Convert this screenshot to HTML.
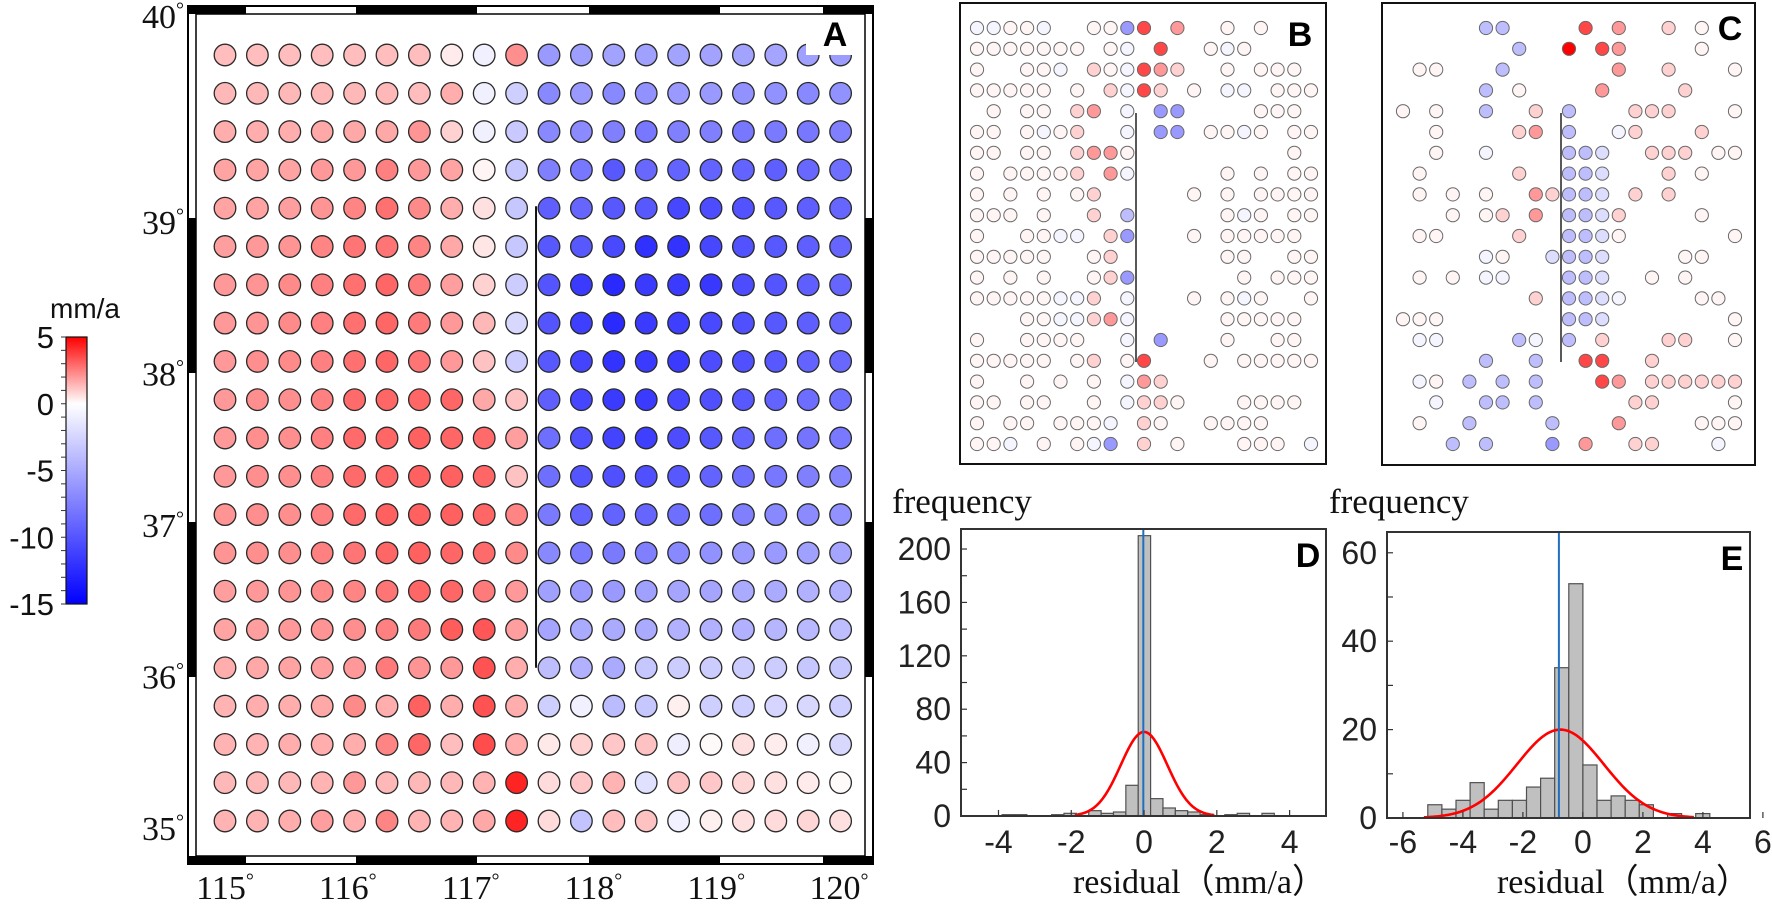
<!DOCTYPE html>
<html><head><meta charset="utf-8">
<style>
html,body{margin:0;padding:0;background:#fff;}
svg{display:block}
</style></head>
<body>
<svg id="fig" width="1772" height="906" viewBox="0 0 1772 906" xmlns="http://www.w3.org/2000/svg">
<defs>
<linearGradient id="cbGrad" x1="0" y1="0" x2="0" y2="1">
<stop offset="0" stop-color="#ff0000"/><stop offset="0.25" stop-color="#ffffff"/><stop offset="1" stop-color="#0000ff"/>
</linearGradient>
</defs>
<g id="gCB"></g>
<g id="gA"></g>
<g id="gB"></g>
<g id="gC"></g>
<g id="gD"></g>
<g id="gE"></g>
</svg>
<script>
// ---------- Panel A data (rows north->south, cols west->east), mm/a ----------
const aValues = [
[1.3,1.3,1.3,1.3,1.3,1.3,1.3,0.4,-0.9,2.2,-6,-5.7,-5.5,-5.6,-5.5,-5.4,-5.5,-5.3,-5.6,-5.8],
[1.4,1.4,1.4,1.4,1.4,1.4,1.3,1.6,-0.9,-2.8,-7,-6,-7,-6.5,-6,-6,-6.5,-6.5,-7,-6.5],
[1.6,1.6,1.6,1.7,1.7,1.7,2.1,0.9,-0.9,-3.2,-7,-6.8,-7.5,-8,-7.5,-7.5,-8,-7.8,-8,-7.5],
[1.8,1.8,1.8,2,2,2.5,2,1.8,0.2,-3.3,-7.5,-8,-9.8,-8.9,-9.2,-9.2,-9.2,-9.4,-8.9,-8.5],
[1.8,1.8,1.9,2.1,2.4,2.8,2.3,1.6,0.6,-3.3,-9.4,-9,-9.8,-9.8,-10.8,-10.5,-10.2,-9.8,-9.4,-9],
[1.9,2,2.1,2.4,2.7,2.7,2.4,1.7,0.5,-3.3,-9.8,-9.8,-10.7,-12.2,-12,-10.8,-10.2,-9.8,-9.4,-9],
[2,2.1,2.3,2.5,2.8,3,2.6,1.9,0.9,-3,-10,-11.5,-12.5,-11.5,-11.5,-11.7,-10.5,-10,-9.4,-9],
[2,2.1,2.3,2.5,2.8,3,2.6,2,1.4,-2.3,-10,-11.3,-12.5,-11.5,-11.3,-10.7,-10.3,-9.8,-9.4,-9],
[2,2.2,2.3,2.5,2.8,3,2.7,2,1.2,-3,-9.8,-11,-12,-11.5,-11.5,-10.5,-10.3,-9.8,-9.2,-8.9],
[2,2.2,2.2,2.5,2.9,3,3,3,1.7,1.2,-9.4,-10.9,-11.5,-11.5,-10.8,-10.3,-9.8,-9.2,-8.6,-8.5],
[2,2.2,2.2,2.5,2.9,3,3.1,3,2.9,1.9,-8.5,-10.3,-11,-11.3,-10.5,-9.8,-9.2,-8.5,-8.2,-7.9],
[2,2.2,2.2,2.5,2.9,3,3.1,3.1,3,1.2,-8.5,-10,-10.3,-10.3,-9.8,-9.2,-8.5,-8,-7.5,-7.2],
[2.1,2.2,2.2,2.5,2.9,3.1,3.1,3.1,3,2.4,-7.8,-9.2,-9.2,-9,-8.5,-8.5,-7.5,-7,-6.8,-6.5],
[2.1,2.2,2.2,2.5,2.7,3,3.1,3,2.9,2.3,-7,-7.8,-7.8,-7.5,-7,-6.5,-6,-6,-5.6,-5.3],
[1.9,2,2.1,2.3,2.4,2.7,3,3,2.6,2,-5.6,-6,-6,-5.6,-5.3,-5.3,-5,-5,-4.6,-4.6],
[1.8,1.9,2,2.1,2.2,2.5,2.6,3.2,3.3,1.9,-5.3,-5,-5,-5,-4.6,-4.6,-4.6,-4.3,-4.1,-3.9],
[1.6,1.7,1.8,1.9,2,2.6,2.1,2,3.4,1.6,-3.8,-4.6,-5,-3.3,-3,-3,-3,-3,-3.3,-3.3],
[1.5,1.6,1.6,1.7,2.3,1.6,3.1,1.6,3.4,1.6,-2.8,-0.9,-4,-3.3,0.3,-2.8,-2.8,-2.5,-2.3,-2.8],
[1.5,1.5,1.6,1.6,1.6,2.4,3,1.3,3.5,1.6,0.45,0.9,1.1,1.2,-1,0.1,0.6,0.35,-0.9,-2.3],
[1.4,1.4,1.4,1.5,2,1.4,1.4,1.4,1.5,4.3,0.7,1.1,1.5,-1.8,1.2,1.1,0.8,0.6,0.4,0.1],
[1.5,1.5,1.6,1.9,1.6,2.4,1.5,1.5,1.7,4.3,0.7,-3.5,1.3,1.2,-0.8,0.3,0.6,0.7,0.8,0.6]
];
const lonTicks = [115,116,117,118,119,120];
const latTicks = [40,39,38,37,36,35];
const cbTicks = [5,0,-5,-10,-15];

// ---------- Panels B / C residual patterns (code per station, '.' = none) ----------
const resCodeKeys = ['o','u','c','b','B','p','r','R','X'];
const resCodeVals = [0.2,-0.6,-2,-3.8,-6,0.9,2,3.6,5];
const bRows = [
"uuoou..ooBR.r..o.o...","ooooooo.ou.R..ouo....","o..oou.pouRrp..o.ooo.","ooooo.o.puRp.o.uu.ooo",
".o.oo.pr.u.BB....ooo.","oo.ouop..u.BB.oouo.oo","oo.oo.prro.........o.","o.oooop.ru.....o.o.oo",
"o.o.o.op.....o.o.oooo","ooo.o..p.b.....ouo.oo","o..oouu.pB...o.ooooo.","ooooo..op......oo..oo",
"o.o.o..opB......o.ooo","ooooouup.u...o.ouo..o","...oouupru.....ooooo.","o..oooo..u.B...o..oo.",
"ooooo.op.oR...o.ooooo","o..o.o.o.urp.........","oo.oo..o.uppo...oooo.","o.oo.ooou.po..oooo...",
"oou.o.ouB.p.o...ooo.u"
];
const cRows = [
".....bb....R.r..p.o..",".......b..X.Rr....o..",".oo...b......r..p...o",".....b.o....r....p...",
"o.o..b..p.b...ppp...o","..o....pr.b..up...p..","..o..u....bbc..ppp.oo",".o.....p..bbc...p.o..",
".o.o.o..rpbbc.p.p....","...o.op.r.bbcp....o..",".oo....p..bbco......o",".....uo..cbbc....oo..",
".o.o.uu...bbc..o.o...","........p.bbcu....oo.","ooo.......bbc.......o",".uu....bu.b.p...pp..o",
".....b..b..RR..p.....",".uo.b.b.b...Rr.pppppp","..u..bb.b.....pp....o",".o..b....b...r....ooo",
"...b.b...B.r..pp...u."
];

// ---------- Panel D histogram ----------
const dBinStart = -4.24;
const dBinWidth = 0.34;
const dCounts = [0,1,1,0,0,1,2,0,4,2,3,23,210,13,6,4,3,1,0,1,2,0,2,0];
const dYTicks = [0,40,80,120,160,200];
const dXTicks = [-4,-2,0,2,4];
const dFit = [63,0,0.64,-1.9,1.93]; // peak, mean, sd, from, to
const dMeanLine = [-0.02];

// ---------- Panel E histogram ----------
const eBinStart = -5.17;
const eBinWidth = 0.47;
const eCounts = [3,2,4,8,2,4,4,7,9,34,53,12,4,5,4,3,0,1,0,1];
const eYTicks = [0,20,40,60];
const eXTicks = [-6,-4,-2,0,2,4,6];
const eFit = [20,-0.75,1.45,-5.3,3.7];
const eMeanLine = [-0.8];

const NS = 'http://www.w3.org/2000/svg';
function mk(tag, attrs, parent, txt){
  const e = document.createElementNS(NS, tag);
  for (const k in attrs) e.setAttribute(k, attrs[k]);
  if (txt !== undefined) e.textContent = txt;
  parent.appendChild(e);
  return e;
}
function vColor(v){
  if (v >= 0){ const t = Math.min(v/5,1); const g = Math.round(255*(1-t)); return 'rgb(255,'+g+','+g+')'; }
  const t = Math.min(-v/15,1); const g = Math.round(255*(1-t)); return 'rgb('+g+','+g+',255)';
}
const SERIF = '"Liberation Serif", serif';
const SANS = '"Liberation Sans", sans-serif';

// ===== Colorbar =====
const gCB = document.getElementById('gCB');
const cbTop = 337, cbBot = 604;
function cbY(v){ return cbTop + (5 - v) / 20 * (cbBot - cbTop); }
const cbTitle = mk('text',{x:85,y:318,'font-family':SANS,'font-size':28,'text-anchor':'middle',fill:'#111'},gCB,'mm/a');


const cbRect = mk('rect',{x:66,y:cbTop,width:21,height:cbBot-cbTop,fill:'url(#cbGrad)',stroke:'#111','stroke-width':1.2},gCB);


for (let v = -15; v <= 5; v++){
  mk('line',{x1:61,x2:66,y1:cbY(v),y2:cbY(v),stroke:'#333','stroke-width':1},gCB);
}
cbTicks.forEach(function(v){
  const t = mk('text',{x:54,y:cbY(v)+11,'font-family':SANS,'font-size':31,'text-anchor':'end',fill:'#111'},gCB,String(v));
  
  
});

// ===== Panel A =====
const gA = document.getElementById('gA');
function ax(c){ return 225 + c*32.4; }
function ay(r){ return 55 + r*38.3; }
aValues.forEach(function(row, r){
  row.forEach(function(v, c){
    const ci = mk('circle',{cx:ax(c),cy:ay(r),r:10.8,fill:vColor(v),stroke:'#2a2a2a','stroke-width':1.3},gA);
    
    
  });
});
const faultA = mk('line',{x1:ax(9.6),x2:ax(9.6),y1:ay(3.95),y2:ay(16),stroke:'#111','stroke-width':2},gA);


mk('rect',{x:806,y:15,width:48,height:40,fill:'#fff'},gA);
const labA = mk('text',{x:835,y:46,'font-family':SANS,'font-size':34,'font-weight':'bold','text-anchor':'middle',fill:'#000'},gA,'A');


const fx0=188, fx1=873, fy0=6, fy1=864, bw=8;
mk('rect',{x:fx0,y:fy0,width:fx1-fx0,height:fy1-fy0,fill:'none',stroke:'#000','stroke-width':2},gA);
mk('rect',{x:fx0+bw,y:fy0+bw,width:fx1-fx0-2*bw,height:fy1-fy0-2*bw,fill:'none',stroke:'#000','stroke-width':1.5},gA);
[[188,246],[356,477],[589,720],[823,873]].forEach(function(s){
  mk('rect',{x:s[0],y:fy0,width:s[1]-s[0],height:bw,fill:'#000'},gA);
  mk('rect',{x:s[0],y:fy1-bw,width:s[1]-s[0],height:bw,fill:'#000'},gA);
});
[[218,373],[522,677]].forEach(function(s){
  mk('rect',{x:fx0,y:s[0],width:bw,height:s[1]-s[0],fill:'#000'},gA);
  mk('rect',{x:fx1-bw,y:s[0],width:bw,height:s[1]-s[0],fill:'#000'},gA);
});
lonTicks.forEach(function(lon){
  const t = mk('text',{x:225+(lon-115)*122.8,y:899,'font-family':SERIF,'font-size':34,'text-anchor':'middle',fill:'#111'},gA);
  t.textContent = String(lon);
  mk('tspan',{'font-size':20,dy:-12},t,'°');
  
  
});
latTicks.forEach(function(lat){
  const yc = lat >= 40 ? 28 : 840 - (lat-35)*151.5;
  const t = mk('text',{x:184,y:yc,'font-family':SERIF,'font-size':34,'text-anchor':'end',fill:'#111'},gA);
  t.textContent = String(lat);
  mk('tspan',{'font-size':20,dy:-12},t,'°');
  
  
});

// ===== Panels B / C =====
function drawResidualMap(gid, rows, x0, dx, box, lineX, label, labelX, labelY, nameSuffix){
  const g = document.getElementById(gid);
  const fr = mk('rect',{x:box[0],y:box[1],width:box[2]-box[0],height:box[3]-box[1],fill:'#fff',stroke:'#111','stroke-width':2},g);
  
  
  rows.forEach(function(row, r){
    for (let c = 0; c < row.length; c++){
      const k = resCodeKeys.indexOf(row[c]);
      if (k < 0) continue;
      const ci = mk('circle',{cx:x0 + c*dx, cy:28 + r*20.8, r:6.6, fill:vColor(resCodeVals[k]), stroke:'#6a6a6a','stroke-width':1},g);
      
      
    }
  });
  const ln = mk('line',{x1:lineX,x2:lineX,y1:113,y2:362,stroke:'#222','stroke-width':1.5},g);
  
  
  const t = mk('text',{x:labelX,y:labelY,'font-family':SANS,'font-size':34,'font-weight':'bold','text-anchor':'middle',fill:'#000'},g,label);
  
  
}
drawResidualMap('gB', bRows, 977, 16.7, [960,3,1326,464], 1136, 'B', 1300, 46, 'b');
drawResidualMap('gC', cRows, 1403, 16.6, [1382,3,1755,465], 1561, 'C', 1730, 40, 'c');

// ===== Histograms =====
function drawHist(gid, o){
  const g = document.getElementById(gid);
  const X = function(v){ return o.bx0 + (v - o.xmin)/(o.xmax - o.xmin)*(o.bx1 - o.bx0); };
  const Y = function(v){ return o.by1 - v/o.ymax*(o.by1 - o.by0); };
  mk('rect',{x:o.bx0,y:o.by0,width:o.bx1-o.bx0,height:o.by1-o.by0,fill:'#fff'},g);
  o.counts.forEach(function(cnt, i){
    if (cnt <= 0) return;
    const l = o.binStart + i*o.binWidth;
    const b = mk('rect',{x:X(l),y:Y(cnt),width:X(l+o.binWidth)-X(l),height:Y(0)-Y(cnt),fill:'#c0c0c0',stroke:'#505050','stroke-width':1.2},g);
    
    
  });
  const fit = o.fit; let d = '';
  for (let i = 0; i <= 120; i++){
    const v = fit[3] + (fit[4]-fit[3])*i/120;
    const f = fit[0]*Math.exp(-0.5*Math.pow((v-fit[1])/fit[2],2));
    d += (i ? 'L' : 'M') + X(v).toFixed(2) + ' ' + Y(f).toFixed(2);
  }
  const cv = mk('path',{d:d,fill:'none',stroke:'#ff0000','stroke-width':2.6},g);
  
  
  const ml = mk('line',{x1:X(o.mean[0]),x2:X(o.mean[0]),y1:o.by0,y2:o.by1,stroke:'#1f6fbf','stroke-width':2},g);
  
  
  mk('rect',{x:o.bx0,y:o.by0,width:o.bx1-o.bx0,height:o.by1-o.by0,fill:'none',stroke:'#333','stroke-width':2},g);
  o.yTicks.forEach(function(v, i){
    mk('line',{x1:o.bx0,x2:o.bx0+6,y1:Y(v),y2:Y(v),stroke:'#333','stroke-width':1.2},g);
    if (i < o.yTicks.length-1){ const m=(v+o.yTicks[i+1])/2; mk('line',{x1:o.bx0,x2:o.bx0+6,y1:Y(m),y2:Y(m),stroke:'#333','stroke-width':1.2},g); }
    const t = mk('text',{x:o.bx0-10,y:Y(v)+11,'font-family':SANS,'font-size':32,'text-anchor':'end',fill:'#222'},g,String(v));
    
    
  });
  o.xTicks.forEach(function(v){
    mk('line',{x1:X(v),x2:X(v),y1:o.by1,y2:o.by1-6,stroke:'#333','stroke-width':1.2},g);
    const t = mk('text',{x:X(v),y:853,'font-family':SANS,'font-size':32,'text-anchor':'middle',fill:'#222'},g,String(v));
    
    
  });
  const yt = mk('text',{x:o.ytx,y:513,'font-family':SERIF,'font-size':35,fill:'#111'},g,'frequency');
  
  
  const xt = mk('text',{x:o.bx1,y:893,'font-family':'"Liberation Serif", "Noto Sans CJK SC", serif','font-size':34,'text-anchor':'end',fill:'#111'},g,'residual（mm/a）');
  
  
  const pl = mk('text',{x:o.bx1-18,y:o.by0+38,'font-family':SANS,'font-size':34,'font-weight':'bold','text-anchor':'middle',fill:'#000'},g,o.label);
  
  
}
drawHist('gD',{bx0:961,bx1:1326,by0:529,by1:816,xmin:-5.03,xmax:5.0,ymax:215,counts:dCounts,binStart:dBinStart,binWidth:dBinWidth,fit:dFit,mean:dMeanLine,yTicks:dYTicks,xTicks:dXTicks,ytx:892,label:'D'});
drawHist('gE',{bx0:1387,bx1:1750,by0:532,by1:818,xmin:-6.53,xmax:5.57,ymax:64.7,counts:eCounts,binStart:eBinStart,binWidth:eBinWidth,fit:eFit,mean:eMeanLine,yTicks:eYTicks,xTicks:eXTicks,ytx:1329,label:'E'});
</script>
</body></html>
